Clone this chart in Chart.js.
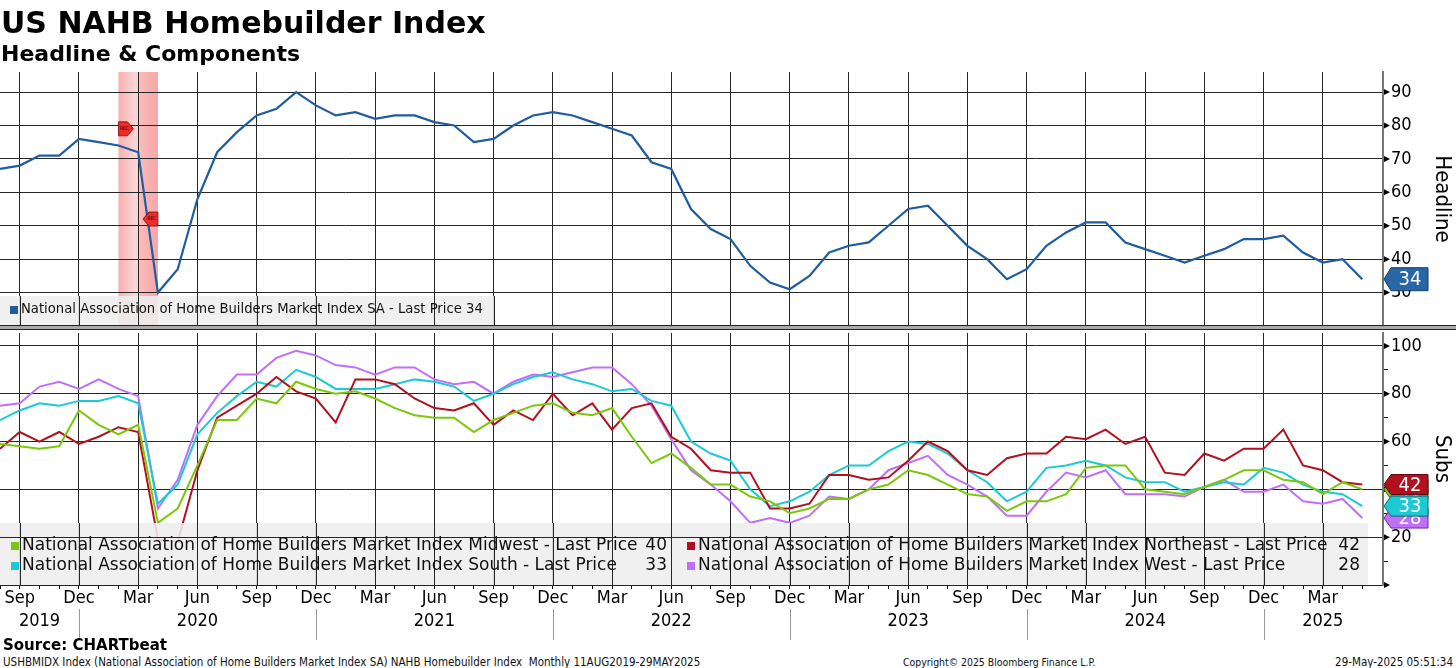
<!DOCTYPE html>
<html>
<head>
<meta charset="utf-8">
<title>US NAHB Homebuilder Index</title>
<script src="https://cdn.jsdelivr.net/npm/chart.js@4.4.1/dist/chart.umd.min.js"></script>
<style>
  html, body { margin: 0; padding: 0; background: #fff; }
  body { width: 1456px; height: 668px; position: relative; overflow: hidden; }
  canvas { position: absolute; left: 0; }
  #top { top: 0; }
  #bottom { top: 330px; }
  .txt { position: absolute; white-space: nowrap; color: #000; line-height: 1; z-index: 2; }
  #title { left: 1px; top: 5px; font: bold 30px 'DejaVu Sans', sans-serif; }
  #subtitle { left: 1px; top: 41px; font: bold 22px 'DejaVu Sans', sans-serif; }
  #source { left: 3px; top: 636px; font: bold 15px 'DejaVu Sans', sans-serif; }
  .foot { top: 655px; font: 11.5px 'DejaVu Sans Condensed', 'DejaVu Sans', sans-serif; color: #111; }
  #sep { position: absolute; left: 0; top: 325px; width: 1456px; height: 3px;
         border-top: 1.5px solid #222; border-bottom: 1.5px solid #222; background: #aaa; z-index: 3; }
</style>
</head>
<body>
<div id="title" class="txt">US NAHB Homebuilder Index</div>
<div id="subtitle" class="txt">Headline &amp; Components</div>
<canvas id="top" width="1456" height="330"></canvas>
<canvas id="bottom" width="1456" height="310"></canvas>
<div id="sep"></div>
<div id="source" class="txt">Source: CHARTbeat</div>
<div class="txt foot" style="left:3px">USHBMIDX Index (National Association of Home Builders Market Index SA) NAHB Homebuilder Index&nbsp; Monthly 11AUG2019-29MAY2025</div>
<div class="txt foot" style="left:903px; font-size:10.4px; top:656px">Copyright© 2025 Bloomberg Finance L.P.</div>
<div class="txt foot" style="right:3px">29-May-2025 05:51:34</div>

<script>
// months on the x axis (Aug 2019 - May 2025)
const months = [
  '2019-08', '2019-09', '2019-10', '2019-11', '2019-12',
  '2020-01', '2020-02', '2020-03', '2020-04', '2020-05', '2020-06', '2020-07', '2020-08', '2020-09', '2020-10', '2020-11', '2020-12',
  '2021-01', '2021-02', '2021-03', '2021-04', '2021-05', '2021-06', '2021-07', '2021-08', '2021-09', '2021-10', '2021-11', '2021-12',
  '2022-01', '2022-02', '2022-03', '2022-04', '2022-05', '2022-06', '2022-07', '2022-08', '2022-09', '2022-10', '2022-11', '2022-12',
  '2023-01', '2023-02', '2023-03', '2023-04', '2023-05', '2023-06', '2023-07', '2023-08', '2023-09', '2023-10', '2023-11', '2023-12',
  '2024-01', '2024-02', '2024-03', '2024-04', '2024-05', '2024-06', '2024-07', '2024-08', '2024-09', '2024-10', '2024-11', '2024-12',
  '2025-01', '2025-02', '2025-03', '2025-04', '2025-05'
];

const headline = [
  67, 68, 71, 71, 76,
  75, 74, 72, 30, 37, 58, 72, 78, 83, 85, 90, 86,
  83, 84, 82, 83, 83, 81, 80, 75, 76, 80, 83, 84,
  83, 81, 79, 77, 69, 67, 55, 49, 46, 38, 33, 31,
  35, 42, 44, 45, 50, 55, 56, 50, 44, 40, 34, 37,
  44, 48, 51, 51, 45, 43, 41, 39, 41, 43, 46, 46,
  47, 42, 39, 40, 34
];
const midwest = [
  59, 58, 57, 58, 73,
  67, 63, 67, 26, 32, 50, 69, 69, 78, 76, 85, 82,
  80, 81, 78, 74, 71, 70, 70, 64, 69, 72, 75, 76,
  72, 71, 74, 62, 51, 55, 49, 42, 42, 37, 35, 30,
  32, 36, 36, 40, 42, 48, 46, 42, 38, 37, 31, 35,
  35, 38, 49, 50, 50, 40, 39, 38, 41, 44, 48, 48,
  44, 43, 38, 43, 40
];
const northeast = [
  57, 64, 60, 64, 59,
  62, 66, 64, 19, 18, 48, 70, 75, 80, 87, 81, 78,
  68, 86, 86, 84, 78, 74, 73, 76, 67, 73, 69, 80,
  71, 76, 65, 74, 76, 62, 57, 48, 47, 47, 32, 32,
  34, 46, 46, 44, 45, 52, 60, 56, 48, 46, 53, 55,
  55, 62, 61, 65, 59, 62, 47, 46, 55, 52, 57, 57,
  65, 50, 48, 43, 42
];
const south = [
  69, 73, 76, 75, 77,
  77, 79, 76, 34, 42, 63, 72, 79, 85, 83, 90, 87,
  82, 82, 82, 84, 86, 85, 83, 77, 80, 84, 87, 89,
  86, 84, 81, 82, 77, 75, 60, 55, 52, 40, 33, 35,
  39, 46, 50, 50, 56, 60, 59, 55, 48, 43, 35, 39,
  49, 50, 52, 50, 45, 43, 43, 39, 41, 43, 42, 49,
  47, 42, 39, 38, 33
];
const west = [
  75, 76, 83, 85, 82,
  86, 82, 79, 32, 44, 67, 79, 88, 88, 95, 98, 96,
  92, 91, 88, 91, 91, 86, 84, 85, 80, 85, 88, 87,
  89, 91, 91, 84, 75, 61, 48, 42, 35, 26, 28, 26,
  29, 37, 36, 40, 48, 51, 54, 46, 42, 37, 29, 29,
  39, 47, 45, 48, 38, 38, 38, 37, 41, 44, 39, 39,
  42, 35, 34, 36, 28
];

const headlineName = 'National Association of Home Builders Market Index SA - Last Price';
const regionNames = [
  'National Association of Home Builders Market Index Midwest - Last Price',
  'National Association of Home Builders Market Index Northeast - Last Price',
  'National Association of Home Builders Market Index South - Last Price',
  'National Association of Home Builders Market Index West - Last Price'
];

const monthNames = ['Jan', 'Feb', 'Mar', 'Apr', 'May', 'Jun', 'Jul', 'Aug', 'Sep', 'Oct', 'Nov', 'Dec'];
const tickMonths = ['Sep', 'Dec', 'Mar', 'Jun'];
const yearLabels = ['2019', '2020', '2021', '2022', '2023', '2024', '2025'];
const yearLabelAt = ['2019-10', '2020-06', '2021-06', '2022-06', '2023-06', '2024-06', '2025-03'];
const yearSeparators = ['2019-12', '2020-12', '2021-12', '2022-12', '2023-12', '2024-12'];
const recession = ['2020-02', '2020-04'];

const topTicks = [20, 25, 30, 35, 40, 45, 50, 55, 60, 65, 70, 75, 80, 85, 90, 95];
const topLabels = [30, 40, 50, 60, 70, 80, 90];
const bottomTicks = [0, 10, 20, 30, 40, 50, 60, 70, 80, 90, 100];
const bottomLabels = [20, 40, 60, 80, 100];

const colors = {
  headline: '#1f5d9e',
  midwest: '#7bc70b',
  northeast: '#b3101f',
  south: '#1ccad3',
  west: '#c070f8'
};

const FONT = "'DejaVu Sans Condensed', 'DejaVu Sans', sans-serif";
const LEGEND_FONT = "'DejaVu Sans', sans-serif";
const GRID = '#262626';
const X_MAX = 70.05;
const AXIS_W = 73;

const monthIdx = months.map((m, i) => i);
const idxOf = m => months.indexOf(m);
const abbr = i => monthNames[parseInt(months[i].slice(5), 10) - 1];
const isQuarter = i => tickMonths.includes(abbr(i));
const pts = arr => arr.map((v, i) => ({ x: i, y: v }));

function xScale(showLabels) {
  return {
    type: 'linear',
    min: 0,
    max: X_MAX,
    afterBuildTicks: s => { s.ticks = monthIdx.map(v => ({ value: v })); },
    ticks: {
      display: showLabels,
      autoSkip: false,
      maxRotation: 0,
      minRotation: 0,
      padding: 0,
      color: '#000',
      font: { family: FONT, size: 18, lineHeight: 1 },
      callback: v => (isQuarter(v) ? abbr(v) : '')
    },
    grid: {
      color: c => (c.tick && isQuarter(c.tick.value) ? GRID : 'transparent'),
      tickColor: '#000',
      drawTicks: showLabels,
      tickLength: 4,
      lineWidth: 1
    },
    border: { display: true, color: '#222', width: 1 },
    afterFit: s => {
      s.height = showLabels ? 55 : 0;
      s.paddingLeft = 0;
      s.paddingRight = 0;
    }
  };
}

function yScale(min, max, ticks, labels, title) {
  return {
    position: 'right',
    min: min,
    max: max,
    afterBuildTicks: s => { s.ticks = ticks.map(v => ({ value: v })); },
    ticks: {
      color: '#000',
      padding: 3,
      font: { family: FONT, size: 18 },
      callback: v => (labels.includes(v) ? String(v) : '')
    },
    grid: {
      color: c => (c.tick && (labels.includes(c.tick.value) || c.tick.value === min) ? GRID : 'transparent'),
      tickColor: '#222',
      tickLength: 5,
      lineWidth: 1
    },
    border: { display: true, color: '#777', width: 2 },
    title: {
      display: true,
      text: title,
      color: '#000',
      padding: { top: 1, bottom: 0 },
      font: { family: FONT, size: 22 }
    },
    afterFit: s => {
      s.width = AXIS_W;
      s.paddingTop = 0;
      s.paddingBottom = 0;
    }
  };
}

function valueTag(ctx, x, y, h, fill, stroke, text) {
  ctx.save();
  ctx.beginPath();
  ctx.moveTo(x, y);
  ctx.lineTo(x + 7, y - h / 2);
  ctx.lineTo(x + 44, y - h / 2);
  ctx.lineTo(x + 44, y + h / 2);
  ctx.lineTo(x + 7, y + h / 2);
  ctx.closePath();
  ctx.fillStyle = fill;
  ctx.fill();
  ctx.strokeStyle = stroke;
  ctx.lineWidth = 1;
  ctx.stroke();
  ctx.fillStyle = '#fff';
  ctx.font = '20px ' + FONT;
  ctx.textAlign = 'center';
  ctx.textBaseline = 'middle';
  ctx.fillText(text, x + 26, y + 1);
  ctx.restore();
}

function tickArrows(chart, labels) {
  const { ctx, chartArea: a, scales: { y } } = chart;
  ctx.save();
  ctx.fillStyle = '#000';
  labels.forEach(v => {
    const py = y.getPixelForValue(v);
    ctx.beginPath();
    ctx.moveTo(a.right + 1, py - 3);
    ctx.lineTo(a.right + 7, py);
    ctx.lineTo(a.right + 1, py + 3);
    ctx.closePath();
    ctx.fill();
  });
  ctx.restore();
}

// redraw grid inside a translucent legend box so it shows through
function gridInBox(chart, box, labels, min) {
  const { ctx, scales: { x, y } } = chart;
  ctx.save();
  ctx.beginPath();
  ctx.rect(box.x, box.y, box.w, box.h);
  ctx.clip();
  ctx.strokeStyle = GRID;
  ctx.lineWidth = 1;
  monthIdx.filter(isQuarter).forEach(i => {
    const px = Math.round(x.getPixelForValue(i)) + 0.5;
    ctx.beginPath();
    ctx.moveTo(px, box.y);
    ctx.lineTo(px, box.y + box.h);
    ctx.stroke();
  });
  labels.concat([min]).forEach(v => {
    const py = Math.round(y.getPixelForValue(v)) + 0.5;
    ctx.beginPath();
    ctx.moveTo(box.x, py);
    ctx.lineTo(box.x + box.w, py);
    ctx.stroke();
  });
  ctx.restore();
}

function legendItem(ctx, x, y, color, text) {
  ctx.fillStyle = color;
  ctx.fillRect(x, y - 4, 8, 8);
  ctx.fillStyle = '#111';
  ctx.textAlign = 'left';
  ctx.fillText(text, x + 11, y);
}

function recFlag(ctx, x, y, dir) {
  ctx.save();
  ctx.beginPath();
  if (dir > 0) {
    ctx.moveTo(x, y - 7); ctx.lineTo(x + 9, y - 7); ctx.lineTo(x + 15, y);
    ctx.lineTo(x + 9, y + 7); ctx.lineTo(x, y + 7);
  } else {
    ctx.moveTo(x, y - 7); ctx.lineTo(x - 9, y - 7); ctx.lineTo(x - 15, y);
    ctx.lineTo(x - 9, y + 7); ctx.lineTo(x, y + 7);
  }
  ctx.closePath();
  ctx.fillStyle = '#ec2b2b';
  ctx.fill();
  ctx.strokeStyle = '#7a0c0c';
  ctx.lineWidth = 0.8;
  ctx.stroke();
  ctx.fillStyle = '#400';
  ctx.font = '5px ' + FONT;
  ctx.textAlign = 'center';
  ctx.textBaseline = 'middle';
  ctx.fillText('REC', x + dir * 6, y);
  ctx.restore();
}

const topDecor = {
  id: 'topDecor',
  beforeDraw(chart) {
    const { ctx, chartArea: a, scales: { x } } = chart;
    const x0 = x.getPixelForValue(idxOf(recession[0]));
    const x1 = x.getPixelForValue(idxOf(recession[1]));
    const g = ctx.createLinearGradient(x0, 0, x1, 0);
    g.addColorStop(0, 'rgba(248,160,160,0.85)');
    g.addColorStop(0.45, 'rgba(252,210,210,0.85)');
    g.addColorStop(0.55, 'rgba(248,175,175,0.85)');
    g.addColorStop(1, 'rgba(246,150,150,0.85)');
    ctx.save();
    ctx.fillStyle = g;
    ctx.fillRect(x0, a.top, x1 - x0, a.bottom - a.top);
    ctx.restore();
  },
  afterDatasetsDraw(chart) {
    const { ctx, chartArea: a, scales: { x, y } } = chart;
    recFlag(ctx, x.getPixelForValue(idxOf(recession[0])), y.getPixelForValue(79), 1);
    recFlag(ctx, x.getPixelForValue(idxOf(recession[1])), y.getPixelForValue(52), -1);

    const box = { x: a.left, y: a.bottom - 30, w: 495, h: 30 };
    ctx.save();
    ctx.fillStyle = 'rgba(238,238,238,0.88)';
    ctx.fillRect(box.x, box.y, box.w, box.h);
    ctx.restore();
    gridInBox(chart, box, topLabels, 20);
    ctx.save();
    ctx.font = '13.2px ' + LEGEND_FONT;
    ctx.textBaseline = 'middle';
    legendItem(ctx, 10, a.bottom - 16, colors.headline, headlineName + ' ' + headline[headline.length - 1]);
    ctx.restore();
  },
  afterDraw(chart) {
    const { ctx, chartArea: a, scales: { y } } = chart;
    tickArrows(chart, topLabels);
    const last = headline[headline.length - 1];
    valueTag(ctx, a.right + 1, y.getPixelForValue(last), 23, '#2866a6', '#173d66', String(last));
  }
};

const regions = [
  { data: midwest, color: colors.midwest, stroke: '#3d6a00' },
  { data: northeast, color: colors.northeast, stroke: '#5a0008' },
  { data: south, color: colors.south, stroke: '#0a6a70' },
  { data: west, color: colors.west, stroke: '#6a2a9a' }
];

const bottomDecor = {
  id: 'bottomDecor',
  afterDatasetsDraw(chart) {
    const { ctx, chartArea: a } = chart;
    const box = { x: a.left, y: a.bottom - 62, w: 1368, h: 62 };
    ctx.save();
    ctx.fillStyle = 'rgba(238,238,238,0.88)';
    ctx.fillRect(box.x, box.y, box.w, box.h);
    ctx.restore();
    gridInBox(chart, box, bottomLabels, 0);

    ctx.save();
    ctx.font = '17px ' + LEGEND_FONT;
    ctx.textBaseline = 'middle';
    const cols = [11, 687];
    const valRight = [667, 1360];
    const rows = [a.bottom - 39, a.bottom - 19];
    regions.forEach((r, k) => {
      const col = k % 2, row = Math.floor(k / 2);
      legendItem(ctx, cols[col], rows[row], r.color, regionNames[k]);
      ctx.textAlign = 'right';
      ctx.fillText(String(r.data[r.data.length - 1]), valRight[col], rows[row]);
    });
    ctx.restore();
  },
  afterDraw(chart) {
    const { ctx, chartArea: a, scales: { x, y } } = chart;
    tickArrows(chart, bottomLabels.concat([0]));

    // year labels and separators under the month ticks
    ctx.save();
    ctx.fillStyle = '#000';
    ctx.font = '18px ' + FONT;
    ctx.textAlign = 'center';
    ctx.textBaseline = 'middle';
    yearLabels.forEach((yl, k) => {
      ctx.fillText(yl, x.getPixelForValue(idxOf(yearLabelAt[k])), a.bottom + 36);
    });
    ctx.strokeStyle = '#9a9a9a';
    ctx.lineWidth = 1;
    yearSeparators.forEach(m => {
      const px = Math.round(x.getPixelForValue(idxOf(m))) + 0.5;
      ctx.beginPath();
      ctx.moveTo(px, a.bottom + 24);
      ctx.lineTo(px, a.bottom + 55);
      ctx.stroke();
    });
    ctx.restore();

    // last-value tags, drawn back to front
    [3, 0, 2, 1].forEach(k => {
      const r = regions[k];
      const last = r.data[r.data.length - 1];
      valueTag(ctx, a.right + 1, y.getPixelForValue(last), 20, r.color, r.stroke, String(last));
    });
  }
};

Chart.defaults.font.family = FONT;

new Chart(document.getElementById('top'), {
  type: 'line',
  data: {
    datasets: [{
      label: headlineName,
      data: pts(headline),
      borderColor: colors.headline,
      borderWidth: 2.2,
      pointRadius: 0,
      tension: 0
    }]
  },
  options: {
    responsive: false,
    animation: false,
    layout: { padding: { top: 72, bottom: 4, left: 0, right: 0 } },
    plugins: { legend: { display: false }, tooltip: { enabled: false } },
    scales: {
      x: xScale(false),
      y: yScale(20, 96, topTicks, topLabels, 'Headline')
    }
  },
  plugins: [topDecor]
});

new Chart(document.getElementById('bottom'), {
  type: 'line',
  data: {
    datasets: regions.map((r, k) => ({
      label: regionNames[k],
      data: pts(r.data),
      borderColor: r.color,
      borderWidth: 2,
      pointRadius: 0,
      tension: 0
    }))
  },
  options: {
    responsive: false,
    animation: false,
    layout: { padding: { top: 3, bottom: 0, left: 0, right: 0 } },
    plugins: { legend: { display: false }, tooltip: { enabled: false } },
    scales: {
      x: xScale(true),
      y: yScale(0, 105.4, bottomTicks, bottomLabels, 'Subs')
    }
  },
  plugins: [bottomDecor]
});
</script>
</body>
</html>
